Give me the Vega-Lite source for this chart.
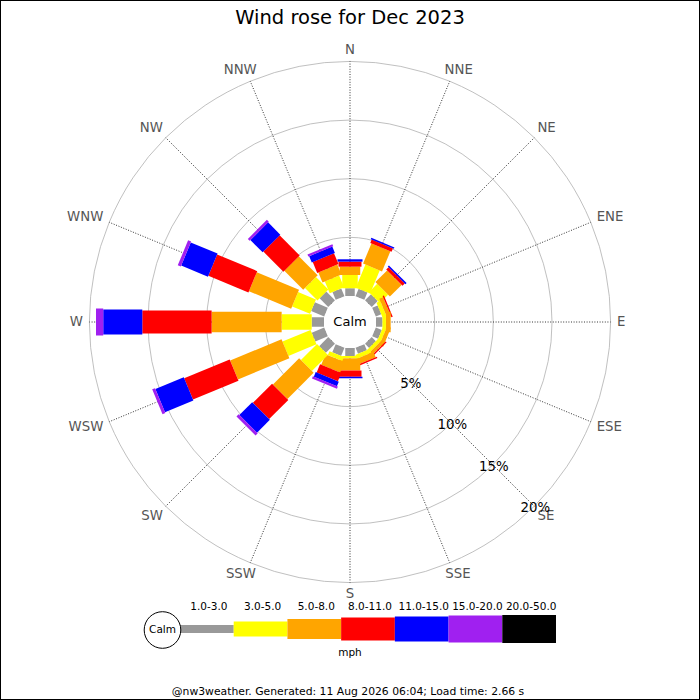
{
  "$schema": "https://vega.github.io/schema/vega-lite/v6.json",
  "width": 700,
  "height": 700,
  "padding": 0,
  "autosize": {"type": "none"},
  "background": "white",
  "config": {"view": {"stroke": "black", "strokeWidth": 2}, "font": "DejaVu Sans"},
  "datasets": {
    "rose": [
      {"dir": "N", "deg": 0, "speed": "1.0-3.0", "pct": 0.66},
      {"dir": "N", "deg": 0, "speed": "3.0-5.0", "pct": 1.13},
      {"dir": "N", "deg": 0, "speed": "5.0-8.0", "pct": 0.71},
      {"dir": "N", "deg": 0, "speed": "8.0-11.0", "pct": 0.43},
      {"dir": "N", "deg": 0, "speed": "11.0-15.0", "pct": 0.2},
      {"dir": "NNE", "deg": 22.5, "speed": "1.0-3.0", "pct": 0.68},
      {"dir": "NNE", "deg": 22.5, "speed": "3.0-5.0", "pct": 2.13},
      {"dir": "NNE", "deg": 22.5, "speed": "5.0-8.0", "pct": 1.86},
      {"dir": "NNE", "deg": 22.5, "speed": "8.0-11.0", "pct": 0.31},
      {"dir": "NNE", "deg": 22.5, "speed": "11.0-15.0", "pct": 0.13},
      {"dir": "NE", "deg": 45, "speed": "1.0-3.0", "pct": 0.72},
      {"dir": "NE", "deg": 45, "speed": "3.0-5.0", "pct": 1.0},
      {"dir": "NE", "deg": 45, "speed": "5.0-8.0", "pct": 1.41},
      {"dir": "NE", "deg": 45, "speed": "8.0-11.0", "pct": 0.28},
      {"dir": "NE", "deg": 45, "speed": "11.0-15.0", "pct": 0.13},
      {"dir": "ENE", "deg": 67.5, "speed": "1.0-3.0", "pct": 0.5},
      {"dir": "ENE", "deg": 67.5, "speed": "3.0-5.0", "pct": 0.35},
      {"dir": "ENE", "deg": 67.5, "speed": "5.0-8.0", "pct": 0.35},
      {"dir": "ENE", "deg": 67.5, "speed": "8.0-11.0", "pct": 0.12},
      {"dir": "E", "deg": 90, "speed": "1.0-3.0", "pct": 0.55},
      {"dir": "E", "deg": 90, "speed": "3.0-5.0", "pct": 0.3},
      {"dir": "E", "deg": 90, "speed": "5.0-8.0", "pct": 0.4},
      {"dir": "ESE", "deg": 112.5, "speed": "1.0-3.0", "pct": 0.55},
      {"dir": "ESE", "deg": 112.5, "speed": "3.0-5.0", "pct": 0.3},
      {"dir": "ESE", "deg": 112.5, "speed": "5.0-8.0", "pct": 0.35},
      {"dir": "SE", "deg": 135, "speed": "1.0-3.0", "pct": 0.5},
      {"dir": "SE", "deg": 135, "speed": "3.0-5.0", "pct": 0.3},
      {"dir": "SE", "deg": 135, "speed": "5.0-8.0", "pct": 0.3},
      {"dir": "SE", "deg": 135, "speed": "8.0-11.0", "pct": 0.12},
      {"dir": "SSE", "deg": 157.5, "speed": "1.0-3.0", "pct": 0.55},
      {"dir": "SSE", "deg": 157.5, "speed": "3.0-5.0", "pct": 0.35},
      {"dir": "SSE", "deg": 157.5, "speed": "5.0-8.0", "pct": 0.5},
      {"dir": "SSE", "deg": 157.5, "speed": "8.0-11.0", "pct": 0.12},
      {"dir": "S", "deg": 180, "speed": "1.0-3.0", "pct": 0.68},
      {"dir": "S", "deg": 180, "speed": "3.0-5.0", "pct": 0.2},
      {"dir": "S", "deg": 180, "speed": "5.0-8.0", "pct": 1.04},
      {"dir": "S", "deg": 180, "speed": "8.0-11.0", "pct": 0.53},
      {"dir": "S", "deg": 180, "speed": "11.0-15.0", "pct": 0.13},
      {"dir": "SSW", "deg": 202.5, "speed": "1.0-3.0", "pct": 0.75},
      {"dir": "SSW", "deg": 202.5, "speed": "3.0-5.0", "pct": 0.36},
      {"dir": "SSW", "deg": 202.5, "speed": "5.0-8.0", "pct": 0.98},
      {"dir": "SSW", "deg": 202.5, "speed": "8.0-11.0", "pct": 0.76},
      {"dir": "SSW", "deg": 202.5, "speed": "11.0-15.0", "pct": 0.42},
      {"dir": "SSW", "deg": 202.5, "speed": "15.0-20.0", "pct": 0.2},
      {"dir": "SW", "deg": 225, "speed": "1.0-3.0", "pct": 1.1},
      {"dir": "SW", "deg": 225, "speed": "3.0-5.0", "pct": 1.94},
      {"dir": "SW", "deg": 225, "speed": "5.0-8.0", "pct": 3.16},
      {"dir": "SW", "deg": 225, "speed": "8.0-11.0", "pct": 2.31},
      {"dir": "SW", "deg": 225, "speed": "11.0-15.0", "pct": 1.55},
      {"dir": "SW", "deg": 225, "speed": "15.0-20.0", "pct": 0.26},
      {"dir": "WSW", "deg": 247.5, "speed": "1.0-3.0", "pct": 1.15},
      {"dir": "WSW", "deg": 247.5, "speed": "3.0-5.0", "pct": 2.59},
      {"dir": "WSW", "deg": 247.5, "speed": "5.0-8.0", "pct": 4.74},
      {"dir": "WSW", "deg": 247.5, "speed": "8.0-11.0", "pct": 4.2},
      {"dir": "WSW", "deg": 247.5, "speed": "11.0-15.0", "pct": 2.62},
      {"dir": "WSW", "deg": 247.5, "speed": "15.0-20.0", "pct": 0.26},
      {"dir": "W", "deg": 270, "speed": "1.0-3.0", "pct": 1.05},
      {"dir": "W", "deg": 270, "speed": "3.0-5.0", "pct": 2.56},
      {"dir": "W", "deg": 270, "speed": "5.0-8.0", "pct": 5.97},
      {"dir": "W", "deg": 270, "speed": "8.0-11.0", "pct": 5.91},
      {"dir": "W", "deg": 270, "speed": "11.0-15.0", "pct": 3.33},
      {"dir": "W", "deg": 270, "speed": "15.0-20.0", "pct": 0.62},
      {"dir": "WNW", "deg": 292.5, "speed": "1.0-3.0", "pct": 1.2},
      {"dir": "WNW", "deg": 292.5, "speed": "3.0-5.0", "pct": 1.65},
      {"dir": "WNW", "deg": 292.5, "speed": "5.0-8.0", "pct": 3.9},
      {"dir": "WNW", "deg": 292.5, "speed": "8.0-11.0", "pct": 3.7},
      {"dir": "WNW", "deg": 292.5, "speed": "11.0-15.0", "pct": 2.47},
      {"dir": "WNW", "deg": 292.5, "speed": "15.0-20.0", "pct": 0.28},
      {"dir": "NW", "deg": 315, "speed": "1.0-3.0", "pct": 1.05},
      {"dir": "NW", "deg": 315, "speed": "3.0-5.0", "pct": 1.5},
      {"dir": "NW", "deg": 315, "speed": "5.0-8.0", "pct": 2.28},
      {"dir": "NW", "deg": 315, "speed": "8.0-11.0", "pct": 2.42},
      {"dir": "NW", "deg": 315, "speed": "11.0-15.0", "pct": 1.48},
      {"dir": "NW", "deg": 315, "speed": "15.0-20.0", "pct": 0.22},
      {"dir": "NNW", "deg": 337.5, "speed": "1.0-3.0", "pct": 0.71},
      {"dir": "NNW", "deg": 337.5, "speed": "3.0-5.0", "pct": 1.09},
      {"dir": "NNW", "deg": 337.5, "speed": "5.0-8.0", "pct": 0.92},
      {"dir": "NNW", "deg": 337.5, "speed": "8.0-11.0", "pct": 1.0},
      {"dir": "NNW", "deg": 337.5, "speed": "11.0-15.0", "pct": 0.58},
      {"dir": "NNW", "deg": 337.5, "speed": "15.0-20.0", "pct": 0.18}
    ],
    "dirs": [
      {"dir": "N", "deg": 0}, {"dir": "NNE", "deg": 22.5}, {"dir": "NE", "deg": 45}, {"dir": "ENE", "deg": 67.5},
      {"dir": "E", "deg": 90}, {"dir": "ESE", "deg": 112.5}, {"dir": "SE", "deg": 135}, {"dir": "SSE", "deg": 157.5},
      {"dir": "S", "deg": 180}, {"dir": "SSW", "deg": 202.5}, {"dir": "SW", "deg": 225}, {"dir": "WSW", "deg": 247.5},
      {"dir": "W", "deg": 270}, {"dir": "WNW", "deg": 292.5}, {"dir": "NW", "deg": 315}, {"dir": "NNW", "deg": 337.5}
    ],
    "rings": [
      {"pct": 5, "label": "5%"}, {"pct": 10, "label": "10%"}, {"pct": 15, "label": "15%"}, {"pct": 20, "label": "20%"}
    ],
    "bands": [
      {"speed": "1.0-3.0"}, {"speed": "3.0-5.0"}, {"speed": "5.0-8.0"}, {"speed": "8.0-11.0"},
      {"speed": "11.0-15.0"}, {"speed": "15.0-20.0"}, {"speed": "20.0-50.0"}
    ]
  },
  "layer": [
    {
      "layer": [
        {
          "data": {"name": "rings"},
          "transform": [{"calculate": "datum.pct + 2.2165", "as": "rr"}],
          "mark": {"type": "arc", "filled": false, "stroke": "#b0b0b0", "strokeWidth": 0.8, "theta": 0, "theta2": 6.2832},
          "encoding": {
            "x": {"datum": 0, "type": "quantitative", "scale": {"domain": [-29.838, 29.838], "nice": false, "zero": false}, "axis": null},
            "y": {"datum": 0, "type": "quantitative", "scale": {"domain": [-32.225, 27.451], "nice": false, "zero": false}, "axis": null},
            "radius": {"field": "rr", "type": "quantitative", "stack": null, "scale": {"type": "linear", "domain": [0, 29.838], "range": [0, 350], "zero": true, "nice": false}, "legend": null}
          }
        },
        {
          "data": {"name": "dirs"},
          "transform": [
            {"calculate": "sin(datum.deg * PI / 180)", "as": "s"},
            {"calculate": "cos(datum.deg * PI / 180)", "as": "c"},
            {"calculate": "2.2165 * datum.s", "as": "x0"},
            {"calculate": "2.2165 * datum.c", "as": "y0"},
            {"calculate": "22.2165 * datum.s", "as": "x1"},
            {"calculate": "22.2165 * datum.c", "as": "y1"}
          ],
          "mark": {"type": "rule", "color": "#333333", "strokeWidth": 1, "strokeDash": [1, 1.6]},
          "encoding": {
            "x": {"field": "x0", "type": "quantitative", "scale": {"domain": [-29.838, 29.838], "nice": false, "zero": false}, "axis": null},
            "y": {"field": "y0", "type": "quantitative", "scale": {"domain": [-32.225, 27.451], "nice": false, "zero": false}, "axis": null},
            "x2": {"field": "x1"},
            "y2": {"field": "y1"}
          }
        },
        {
          "data": {"name": "rose"},
          "transform": [
            {"calculate": "indexof(['1.0-3.0','3.0-5.0','5.0-8.0','8.0-11.0','11.0-15.0','15.0-20.0','20.0-50.0'], datum.speed)", "as": "k"},
            {"stack": "pct", "groupby": ["dir"], "sort": [{"field": "k", "order": "ascending"}], "as": ["c0", "c1"]},
            {"calculate": "sin(datum.deg * PI / 180)", "as": "s"},
            {"calculate": "cos(datum.deg * PI / 180)", "as": "c"},
            {"calculate": "(2.2165 + datum.c0) * datum.s", "as": "x0"},
            {"calculate": "(2.2165 + datum.c0) * datum.c", "as": "y0"},
            {"calculate": "(2.2165 + datum.c1) * datum.s", "as": "x1"},
            {"calculate": "(2.2165 + datum.c1) * datum.c", "as": "y1"}
          ],
          "mark": {"type": "rule", "strokeCap": "butt"},
          "encoding": {
            "x": {"field": "x0", "type": "quantitative", "scale": {"domain": [-29.838, 29.838], "nice": false, "zero": false}, "axis": null},
            "y": {"field": "y0", "type": "quantitative", "scale": {"domain": [-32.225, 27.451], "nice": false, "zero": false}, "axis": null},
            "x2": {"field": "x1"},
            "y2": {"field": "y1"},
            "color": {"field": "speed", "type": "nominal", "scale": {"domain": ["1.0-3.0", "3.0-5.0", "5.0-8.0", "8.0-11.0", "11.0-15.0", "15.0-20.0", "20.0-50.0"], "range": ["#999999", "#ffff00", "#ffa500", "#ff0000", "#0000ff", "#a020f0", "#000000"]}, "legend": null},
            "strokeWidth": {"field": "speed", "type": "ordinal", "scale": {"type": "ordinal", "domain": ["1.0-3.0", "3.0-5.0", "5.0-8.0", "8.0-11.0", "11.0-15.0", "15.0-20.0", "20.0-50.0"], "range": [9.5, 15.5, 20.5, 23, 25, 27, 28]}, "legend": null}
          }
        },
        {
          "data": {"name": "dirs"},
          "transform": [
            {"calculate": "sin(datum.deg * PI / 180)", "as": "s"},
            {"calculate": "cos(datum.deg * PI / 180)", "as": "c"},
            {"calculate": "(length(replace(datum.dir, regexp('[^N]', 'g'), '')) * 0.748 + length(replace(datum.dir, regexp('[^E]', 'g'), '')) * 0.632 + length(replace(datum.dir, regexp('[^S]', 'g'), '')) * 0.635 + length(replace(datum.dir, regexp('[^W]', 'g'), '')) * 0.989) * 13.3 / 2", "as": "hw"},
            {"calculate": "(267 * datum.s + datum.hw * clamp(1.2 * datum.s, -1, 1)) / 11.73", "as": "lx"},
            {"calculate": "(267 * datum.c + 5.2 * clamp(1.6 * datum.c, -1, 1)) / 11.73", "as": "ly"}
          ],
          "mark": {"type": "text", "fontSize": 13.3, "color": "#555555", "align": "center", "baseline": "middle"},
          "encoding": {
            "x": {"field": "lx", "type": "quantitative", "scale": {"domain": [-29.838, 29.838], "nice": false, "zero": false}, "axis": null},
            "y": {"field": "ly", "type": "quantitative", "scale": {"domain": [-32.225, 27.451], "nice": false, "zero": false}, "axis": null},
            "text": {"field": "dir"}
          }
        },
        {
          "data": {"name": "rings"},
          "transform": [
            {"calculate": "(datum.pct + 2.2165) * 0.70711", "as": "lx"},
            {"calculate": "-(datum.pct + 2.2165) * 0.70711", "as": "ly"}
          ],
          "mark": {"type": "text", "fontSize": 13.3, "color": "black", "align": "center", "baseline": "middle", "dx": 1, "dy": 2},
          "encoding": {
            "x": {"field": "lx", "type": "quantitative", "scale": {"domain": [-29.838, 29.838], "nice": false, "zero": false}, "axis": null},
            "y": {"field": "ly", "type": "quantitative", "scale": {"domain": [-32.225, 27.451], "nice": false, "zero": false}, "axis": null},
            "text": {"field": "label"}
          }
        },
        {
          "data": {"values": [{"label": "Calm"}]},
          "mark": {"type": "text", "fontSize": 13, "color": "black", "align": "center", "baseline": "middle"},
          "encoding": {
            "x": {"datum": 0, "type": "quantitative", "scale": {"domain": [-29.838, 29.838], "nice": false, "zero": false}, "axis": null},
            "y": {"datum": 0, "type": "quantitative", "scale": {"domain": [-32.225, 27.451], "nice": false, "zero": false}, "axis": null},
            "text": {"field": "label"}
          }
        }
      ]
    },
    {
      "data": {"name": "bands"},
      "layer": [
        {
          "mark": {"type": "rule", "strokeCap": "butt"},
          "encoding": {
            "x": {"field": "speed", "type": "ordinal", "sort": null, "bandPosition": 0, "scale": {"type": "band", "domain": ["1.0-3.0", "3.0-5.0", "5.0-8.0", "8.0-11.0", "11.0-15.0", "15.0-20.0", "20.0-50.0"], "range": [180, 556], "paddingInner": 0, "paddingOuter": 0}, "axis": null},
            "x2": {"field": "speed", "bandPosition": 1},
            "y": {"value": 629},
            "color": {"field": "speed", "type": "nominal", "scale": {"domain": ["1.0-3.0", "3.0-5.0", "5.0-8.0", "8.0-11.0", "11.0-15.0", "15.0-20.0", "20.0-50.0"], "range": ["#999999", "#ffff00", "#ffa500", "#ff0000", "#0000ff", "#a020f0", "#000000"]}, "legend": null},
            "strokeWidth": {"field": "speed", "type": "ordinal", "scale": {"type": "ordinal", "domain": ["1.0-3.0", "3.0-5.0", "5.0-8.0", "8.0-11.0", "11.0-15.0", "15.0-20.0", "20.0-50.0"], "range": [8, 15, 20, 23, 25, 27, 28]}, "legend": null}
          }
        },
        {
          "mark": {"type": "text", "fontSize": 10.5, "color": "black", "align": "center", "baseline": "middle", "dx": 2},
          "encoding": {
            "x": {"field": "speed", "type": "ordinal", "sort": null, "bandPosition": 0.5, "scale": {"type": "band", "domain": ["1.0-3.0", "3.0-5.0", "5.0-8.0", "8.0-11.0", "11.0-15.0", "15.0-20.0", "20.0-50.0"], "range": [180, 556], "paddingInner": 0, "paddingOuter": 0}, "axis": null},
            "y": {"value": 607},
            "text": {"field": "speed"}
          }
        }
      ]
    },
    {
      "data": {"values": [{"label": "Calm"}]},
      "mark": {"type": "point", "shape": "circle", "size": 1340, "filled": true, "fill": "white", "stroke": "black", "strokeWidth": 1, "opacity": 1},
      "encoding": {"x": {"value": 162.5}, "y": {"value": 630}}
    },
    {
      "data": {"values": [{"label": "Calm"}]},
      "mark": {"type": "text", "fontSize": 10.5, "color": "black", "align": "center", "baseline": "middle"},
      "encoding": {"x": {"value": 162.5}, "y": {"value": 630}, "text": {"field": "label"}}
    },
    {
      "data": {"values": [{"label": "Wind rose for Dec 2023"}]},
      "mark": {"type": "text", "fontSize": 19.5, "color": "black", "align": "center", "baseline": "middle"},
      "encoding": {"x": {"value": 350}, "y": {"value": 18}, "text": {"field": "label"}}
    },
    {
      "data": {"values": [{"label": "mph"}]},
      "mark": {"type": "text", "fontSize": 10.5, "color": "black", "align": "center", "baseline": "middle"},
      "encoding": {"x": {"value": 350}, "y": {"value": 653}, "text": {"field": "label"}}
    },
    {
      "data": {"values": [{"label": "@nw3weather. Generated: 11 Aug 2026 06:04; Load time: 2.66 s"}]},
      "mark": {"type": "text", "fontSize": 10.8, "color": "black", "align": "center", "baseline": "middle"},
      "encoding": {"x": {"value": 348}, "y": {"value": 692}, "text": {"field": "label"}}
    }
  ],
  "resolve": {"scale": {"x": "independent", "y": "independent", "strokeWidth": "independent"}}
}
